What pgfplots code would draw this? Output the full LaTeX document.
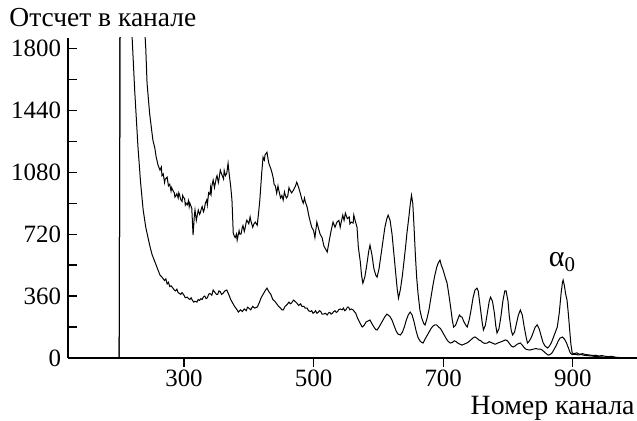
\documentclass[border=0pt]{standalone}
\usepackage{fontspec}
\setmainfont{Liberation Serif}
\usepackage{pgfplots}
\pgfplotsset{compat=1.18}
\begin{document}
\begin{tikzpicture}
\path[use as bounding box] (-34bp,-31.5bp) rectangle (284.5bp,179bp);
\begin{axis}[
  at={(0,0)}, anchor=south west,
  scale only axis, width=284.5bp, height=160bp,
  xmin=121, xmax=999, ymin=0, ymax=1860,
  axis lines*=left,
  axis line style={line width=1bp},
  xtick={300,500,700,900},
  ytick={0,360,720,1080,1440,1800},
  minor ytick={180,540,900,1260,1620},
  xtick align=outside, ytick align=inside,
  major tick length=4.5bp, minor tick length=4.5bp,
  tick style={line width=0.6bp, black},
  /pgf/number format/assume math mode=true,
  /pgf/number format/1000 sep={},
  xticklabel={\pgfmathprintnumber{\tick}},
  yticklabel={\pgfmathprintnumber{\tick}},
  tick label style={font=\fontsize{12.5}{14}\selectfont},
  x tick label style={inner sep=1.5bp},
  clip=true,
]
\addplot[black, line width=0.5bp] coordinates {
(195,0)(200,0)(202,3000)(238,2000)(241,1800)(243,1597)(247,1420)(252,1266)(255,1220)(257,1170)(260,1120)(263,1092)(265,1110)(266,1060)(268,1070)(270,1020)(271,1040)(274,1051)(276,1000)(278,1010)(280,970)(281,990)(282,980)(285,960)(286,935)(287,940)(289,955)(291,930)(292,960)(293,950)(295,920)(297,910)(298,945)(299,935)(301,925)(302,890)(303,900)(305,890)(307,915)(308,880)(309,900)(311,880)(312,870)(314,714)(316,830)(317,860)(319,800)(320,820)(322,860)(324,835)(325,842)(327,870)(328,880)(330,850)(331,860)(333,900)(335,918)(336,890)(338,960)(340,950)(341,990)(342,960)(343,1000)(345,1034)(347,990)(348,1010)(350,1050)(351,1060)(353,1020)(354,1040)(356,1092)(358,1070)(359,1060)(361,1040)(362,1090)(364,1060)(366,1074)(368,1132)(370,1060)(372,1000)(374,918)(376,726)(378,705)(379,700)(381,720)(382,685)(385,740)(386,720)(388,720)(390,760)(391,770)(393,735)(394,750)(396,790)(397,801)(400,780)(402,820)(403,800)(406,760)(408,780)(410,790)(413,772)(415,840)(417,918)(420,1080)(422,1167)(424,1150)(425,1180)(428,1196)(430,1150)(431,1130)(434,1100)(436,1074)(438,1040)(439,1010)(441,1000)(443,958)(445,1000)(446,980)(449,930)(451,945)(453,918)(455,965)(456,950)(458,930)(460,940)(462,990)(463,980)(466,960)(469,976)(472,1000)(474,1022)(477,990)(480,950)(482,920)(484,900)(486,930)(487,910)(490,877)(493,820)(495,790)(497,761)(500,740)(502,700)(505,790)(507,761)(510,720)(513,700)(516,650)(519,630)(521,616)(524,680)(527,740)(530,790)(533,760)(536,790)(539,800)(541,760)(542,780)(545,830)(547,800)(549,842)(552,810)(555,820)(556,780)(558,790)(561,784)(562,830)(564,800)(567,760)(569,645)(572,560)(574,480)(576,435)(579,470)(582,540)(585,620)(587,656)(590,600)(593,520)(596,480)(598,470)(601,520)(604,600)(607,680)(610,760)(613,810)(615,830)(618,800)(621,720)(624,600)(627,480)(629,400)(631,348)(634,400)(637,480)(640,580)(642,650)(644,726)(647,820)(649,890)(651,946)(653,900)(655,760)(657,600)(659,470)(661,380)(664,279)(667,230)(670,200)(672,192)(675,230)(678,280)(681,350)(684,420)(687,480)(690,528)(692,550)(695,569)(697,540)(700,510)(703,470)(706,435)(709,360)(712,280)(714,220)(716,180)(719,190)(722,220)(725,250)(727,240)(729,238)(732,210)(735,190)(737,180)(740,220)(743,280)(746,350)(749,395)(752,406)(754,390)(757,300)(760,210)(762,163)(765,190)(768,260)(771,330)(773,354)(776,330)(779,260)(781,190)(783,145)(786,170)(789,240)(792,330)(795,390)(797,390)(800,330)(802,240)(805,160)(807,134)(810,150)(813,200)(816,250)(819,279)(822,250)(825,180)(828,120)(830,87)(833,100)(836,120)(839,150)(842,180)(845,192)(848,170)(851,130)(854,90)(857,70)(861,58)(864,70)(867,90)(870,120)(873,150)(876,180)(879,260)(882,380)(884,440)(885,453)(887,420)(889,370)(891,337)(893,260)(895,170)(897,80)(899,29)(902,25)(906,30)(910,22)(915,25)(920,20)(925,18)(930,15)(935,16)(940,12)(945,14)(950,10)(955,8)(960,10)(965,5)(970,3)(980,2)(990,0)
};
\addplot[black, line width=0.5bp] coordinates {
(195,0)(200,0)(202,3000)(216,2200)(220,1858)(224,1550)(229,1225)(233,1020)(237,860)(241,760)(245,690)(248,640)(251,598)(255,560)(259,520)(263,482)(266,470)(270,450)(272,460)(274,430)(276,440)(278,415)(280,420)(283,406)(285,395)(287,390)(289,400)(291,380)(293,375)(295,370)(297,380)(300,365)(302,350)(305,354)(307,345)(309,340)(311,350)(313,335)(315,325)(317,330)(320,325)(322,340)(324,335)(326,345)(328,340)(330,355)(332,360)(334,345)(336,350)(338,370)(340,375)(343,365)(345,395)(348,380)(350,370)(352,370)(354,390)(356,385)(358,370)(360,375)(363,390)(366,395)(369,370)(372,340)(375,320)(378,300)(381,285)(384,267)(387,280)(390,270)(393,285)(396,275)(398,295)(400,290)(403,280)(406,300)(409,290)(413,296)(416,320)(419,350)(422,370)(425,390)(428,406)(431,385)(434,370)(437,340)(440,330)(443,315)(446,300)(449,290)(451,280)(453,279)(456,300)(459,310)(462,325)(464,315)(466,320)(469,337)(471,330)(474,320)(477,305)(480,315)(482,300)(485,300)(487,290)(490,290)(492,275)(495,270)(497,275)(499,260)(501,265)(503,275)(505,260)(507,265)(509,275)(511,270)(513,255)(515,255)(518,260)(521,250)(523,262)(525,265)(527,255)(529,260)(531,270)(533,275)(535,265)(537,270)(539,282)(541,285)(544,280)(546,290)(548,275)(550,280)(552,295)(554,295)(556,280)(558,285)(561,279)(565,260)(568,230)(572,200)(575,180)(578,190)(581,210)(584,215)(587,221)(590,200)(593,180)(596,165)(598,163)(601,180)(604,200)(607,220)(610,240)(613,255)(615,250)(618,240)(621,220)(624,190)(627,160)(630,140)(634,134)(637,150)(640,180)(643,220)(646,250)(649,267)(652,250)(655,210)(658,160)(661,120)(664,100)(667,90)(669,87)(672,110)(675,130)(678,150)(681,170)(684,185)(687,192)(690,192)(693,180)(696,170)(699,150)(702,130)(705,110)(708,95)(711,87)(714,90)(717,100)(720,95)(723,85)(726,80)(729,75)(732,80)(735,85)(738,90)(741,100)(744,110)(747,120)(749,122)(752,115)(755,105)(758,100)(761,90)(764,85)(768,87)(771,95)(774,90)(777,85)(780,80)(783,85)(786,90)(790,95)(793,100)(796,105)(799,100)(802,85)(805,70)(808,64)(811,70)(814,80)(817,85)(819,87)(822,75)(825,60)(828,50)(831,48)(834,46)(837,50)(840,52)(843,55)(846,52)(850,52)(853,45)(856,35)(859,25)(862,17)(865,20)(868,30)(871,50)(874,70)(877,95)(880,115)(884,122)(887,110)(890,90)(893,60)(896,29)(899,20)(903,22)(908,18)(913,20)(918,15)(923,14)(928,12)(933,10)(938,8)(945,6)(950,4)(960,2)(970,0)
};
\node[anchor=base, font=\fontsize{15}{17}\selectfont] at (axis cs:884,529) {α\textsubscript{0}};
\end{axis}
\node[anchor=base west, font=\fontsize{13.8}{16}\selectfont, inner sep=0pt] at (-29.5bp,165.5bp) {Отсчет в канале};
\node[anchor=base east, font=\fontsize{14}{16}\selectfont, inner sep=0pt] at (283.5bp,-28.3bp) {Номер канала};
\end{tikzpicture}
\end{document}
